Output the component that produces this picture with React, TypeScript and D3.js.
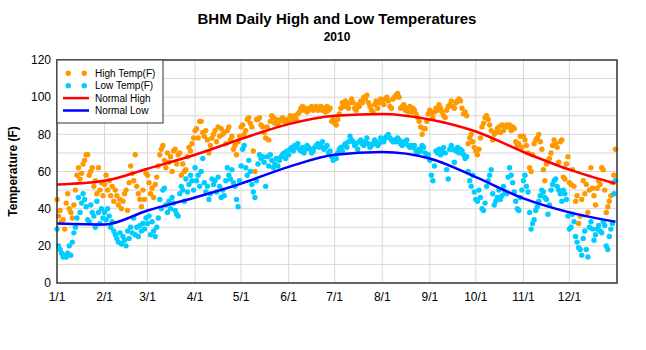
import * as d3 from "d3"

// daily highs / lows (deg F), BHM 2010
const highJan = [45,36,39,33,34,29,43,48,40,38,35,42,50,58,62,56,59,64,66,69,69,58,60,62,52,55,48,62,50,54,47]
const lowJan = [29,20,18,16,14,15,14,16,20,15,22,27,30,35,46,38,43,48,45,41,34,33,42,38,36,30,44,38,32,40,35]
const highFeb = [53,58,50,55,47,52,44,50,47,42,45,40,44,48,50,39,54,63,59,55,69,52,48,45,41,50,45,59]
const lowFeb = [38,34,40,36,30,33,28,26,24,22,27,21,25,23,20,28,24,30,27,35,26,30,25,31,28,32,29,35]
const highMar = [58,54,48,51,46,53,57,63,69,72,74,66,62,70,65,68,60,71,72,64,69,70,58,64,60,61,68,73,71,75,78]
const lowMar = [32,36,26,33,28,25,30,35,45,40,50,51,42,38,44,40,46,43,39,37,36,48,52,50,44,56,49,53,58,55,50]
const highApr = [82,83,78,87,87,81,79,82,77,70,74,78,80,82,76,84,79,83,80,81,75,82,84,77,79,72,74,69,76,79]
const lowApr = [62,55,58,52,60,67,54,49,52,45,48,56,53,55,49,57,52,46,50,47,55,62,58,56,61,54,52,45,41,55]
const highMay = [84,85,80,82,88,89,86,84,71,60,88,88,89,85,84,81,78,84,77,87,90,89,86,88,85,87,88,89,87,86,88]
const lowMay = [63,72,74,62,58,66,60,53,49,46,55,64,69,67,68,65,52,68,63,69,66,62,64,67,63,66,68,69,70,67,71]
const highJun = [87,90,88,89,90,88,91,92,94,95,93,94,92,93,94,95,93,94,95,93,94,95,93,94,92,95,93,94,87,88]
const lowJun = [69,72,73,71,74,73,75,72,71,73,70,72,74,73,72,70,71,73,74,75,73,74,76,72,73,74,70,71,68,66]
const highJul = [86,85,88,91,94,97,95,98,96,94,97,99,97,94,93,96,95,98,97,100,99,101,97,95,93,92,96,98,94,97,99]
const lowJul = [68,67,70,72,73,71,74,75,73,76,79,77,76,74,75,72,76,77,75,74,76,78,75,73,74,75,77,76,74,75,78]
const highAug = [97,96,99,100,98,95,94,99,100,101,102,100,94,95,96,93,94,92,95,92,94,93,91,89,87,84,80,83,83,87,91]
const lowAug = [77,76,78,79,80,78,77,76,77,76,78,77,75,74,76,75,77,74,73,74,73,74,71,70,72,71,74,73,70,68,69]
const highSep = [93,91,89,92,94,93,96,94,92,90,89,93,95,96,98,95,94,97,98,99,98,94,91,92,90,75,78,80,76,73]
const lowSep = [66,58,55,63,71,70,72,69,71,73,70,61,56,72,74,72,65,71,73,70,72,71,69,67,68,60,55,52,58,49]
const highOct = [71,69,72,78,84,86,89,90,88,85,82,77,80,81,83,84,81,85,82,84,85,84,85,82,84,83,76,74,75,79,73]
const lowOct = [45,44,50,46,40,39,43,52,55,58,61,48,42,44,46,50,45,47,52,49,48,57,62,58,54,49,44,40,39,46,50]
const highNov = [79,77,74,70,62,60,69,75,77,78,80,76,72,61,55,64,66,67,70,74,77,75,73,65,76,77,57,56,64,68]
const lowNov = [55,58,52,49,38,29,32,34,39,41,44,47,50,49,46,45,37,42,50,53,55,56,52,50,48,44,50,48,45,36]
const highDec = [54,53,61,52,44,47,32,36,45,55,48,53,38,50,62,51,47,42,51,55,53,62,61,50,38,41,44,47,54,58,72]
const lowDec = [29,30,37,33,25,22,19,18,15,24,28,18,14,30,33,29,23,26,29,31,28,27,33,31,20,18,25,29,32,48,55]

// normals, at the first of each month (plus 12/31)
const normalDates = ["2010-01-01","2010-02-01","2010-03-01","2010-04-01","2010-05-01","2010-06-01","2010-07-01","2010-08-01","2010-09-01","2010-10-01","2010-11-01","2010-12-01","2010-12-31"]
const normalHigh = [53,55,61.5,69,77.5,85.5,90,91,88,81.5,70.5,61,53.5]
const normalLow = [32,31.5,39,46,53.5,62.5,69,70.5,67,57,45.5,38,33]

const yTicks = [0,20,40,60,80,100,120]

const highs = [...highJan,...highFeb,...highMar,...highApr,...highMay,...highJun,...highJul,...highAug,...highSep,...highOct,...highNov,...highDec]
const lows = [...lowJan,...lowFeb,...lowMar,...lowApr,...lowMay,...lowJun,...lowJul,...lowAug,...lowSep,...lowOct,...lowNov,...lowDec]

const font = "'Liberation Sans', Arial, sans-serif"
const highColor = "#FF9900"
const lowColor = "#00CCFF"

export default function App() {
  const left = 57, right = 617, top = 60, bottom = 283
  const parse = d3.timeParse("%Y-%m-%d")
  const dayDate = (i: number) => new Date(2010, 0, 1 + i)

  const x = d3.scaleTime().domain([new Date(2010, 0, 1), new Date(2011, 0, 1)]).range([left, right])
  const y = d3.scaleLinear().domain([0, 120]).range([bottom, top])

  const months = d3.timeMonth.range(new Date(2010, 0, 1), new Date(2011, 0, 1))
  const fmt = d3.timeFormat("%-m/%-d")

  const line = d3
    .line<number>()
    .x((_, i) => x(parse(normalDates[i]) as Date))
    .y((d) => y(d))
    .curve(d3.curveMonotoneX)

  return (
    <svg width={646} height={350} style={{ position: "absolute", left: 0, top: 0, background: "#fff" }} fontFamily={font}>
      <rect width={646} height={350} fill="#fff" />

      {/* grid */}
      {d3.range(10, 120, 10).map((v) => (
        <line key={"h" + v} x1={left} x2={right} y1={y(v)} y2={y(v)} stroke="#d8d8d8" strokeWidth={1} />
      ))}
      {months.slice(1).map((m) => (
        <line key={"v" + m.getMonth()} x1={x(m)} x2={x(m)} y1={top} y2={bottom} stroke="#d8d8d8" strokeWidth={1} />
      ))}

      {/* dots */}
      {highs.map((v, i) => (
        <circle key={"hi" + i} cx={x(dayDate(i))} cy={y(v)} r={2.7} fill={highColor} />
      ))}
      {lows.map((v, i) => (
        <circle key={"lo" + i} cx={x(dayDate(i))} cy={y(v)} r={2.7} fill={lowColor} />
      ))}

      {/* normals */}
      <path d={line(normalHigh) || ""} fill="none" stroke="#FF0000" strokeWidth={2.5} />
      <path d={line(normalLow) || ""} fill="none" stroke="#0000FF" strokeWidth={2.5} />

      {/* frame */}
      <rect x={left} y={top} width={right - left} height={bottom - top} fill="none" stroke="#333" strokeWidth={1.5} />

      {/* axes labels */}
      {yTicks.map((t) => (
        <text key={"yt" + t} x={51} y={y(t)} dy="0.35em" textAnchor="end" fontSize={12}>
          {t}
        </text>
      ))}
      {months.map((m) => (
        <text key={"xt" + m.getMonth()} x={x(m)} y={301} textAnchor="middle" fontSize={12}>
          {fmt(m)}
        </text>
      ))}
      <text transform={`translate(17,${(top + bottom) / 2}) rotate(-90)`} textAnchor="middle" fontSize={12} fontWeight="bold">
        Temperature (F)
      </text>

      {/* titles */}
      <text x={(left + right) / 2} y={24} textAnchor="middle" fontSize={15} fontWeight="bold">
        BHM Daily High and Low Temperatures
      </text>
      <text x={(left + right) / 2} y={41} textAnchor="middle" fontSize={12} fontWeight="bold">
        2010
      </text>

      {/* legend */}
      <rect x={left} y={top} width={106} height={63} fill="#fff" stroke="#333" strokeWidth={1} />
      {[
        { label: "High Temp(F)", kind: "dot", color: highColor },
        { label: "Low Temp(F)", kind: "dot", color: lowColor },
        { label: "Normal High", kind: "line", color: "#FF0000" },
        { label: "Normal Low", kind: "line", color: "#0000FF" },
      ].map((d, i) => {
        const cy = 73.3 + i * 12.4
        return (
          <g key={d.label}>
            {d.kind === "dot" ? (
              <>
                <circle cx={68.3} cy={cy} r={2.7} fill={d.color} />
                <circle cx={84.3} cy={cy} r={2.7} fill={d.color} />
              </>
            ) : (
              <line x1={63} x2={89} y1={cy} y2={cy} stroke={d.color} strokeWidth={2.5} />
            )}
            <text x={95} y={cy} dy="0.35em" fontSize={10}>
              {d.label}
            </text>
          </g>
        )
      })}
    </svg>
  )
}
